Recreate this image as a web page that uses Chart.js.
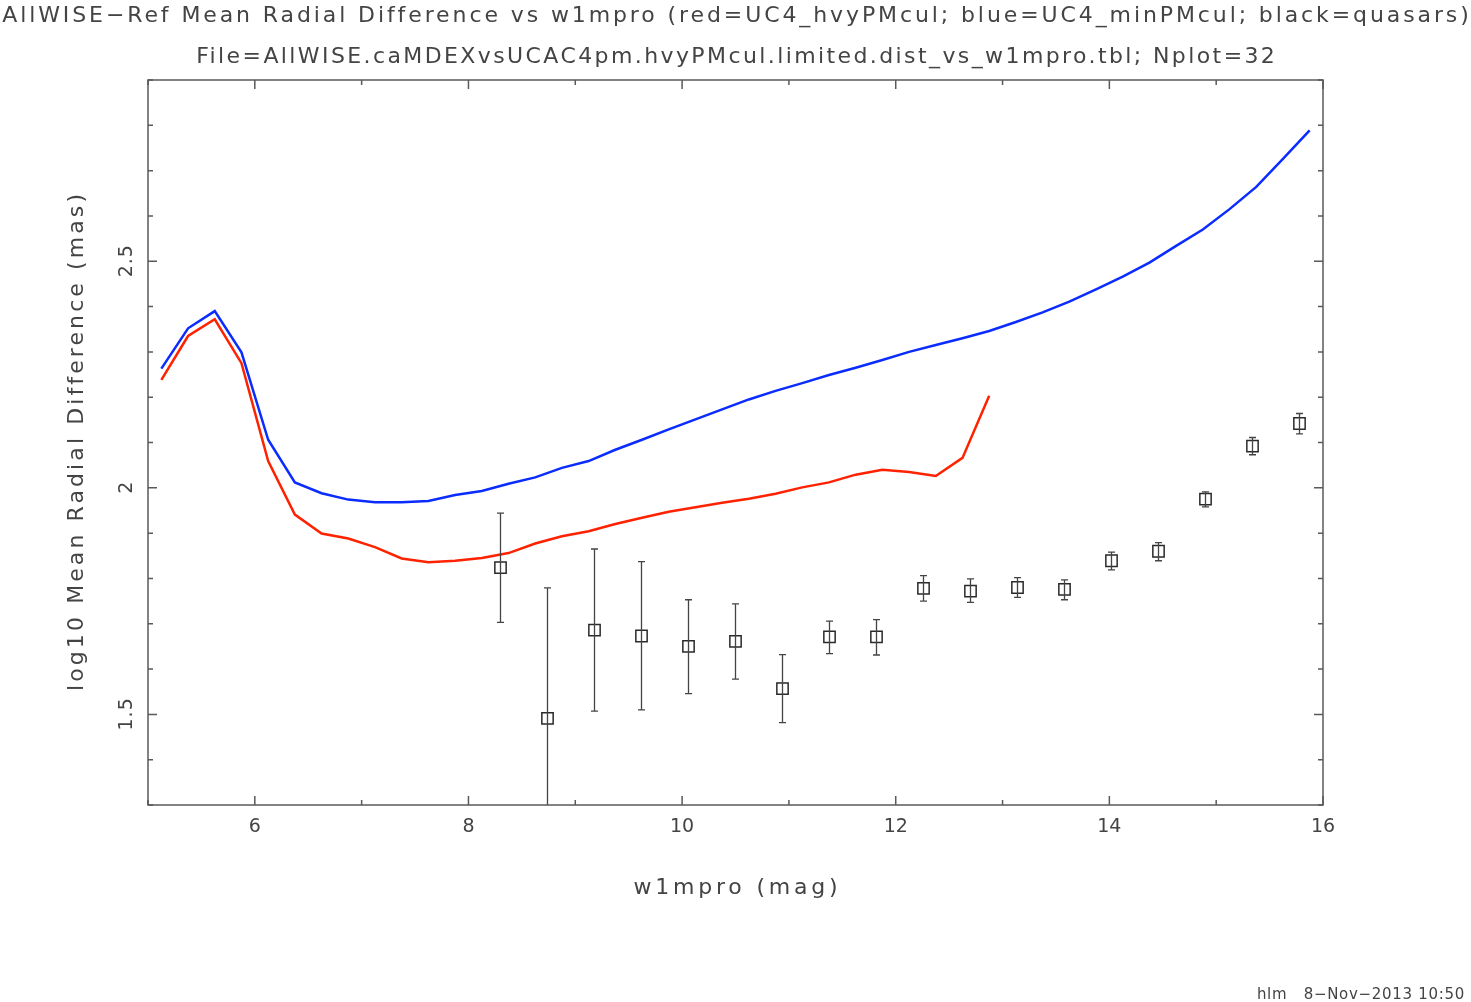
<!DOCTYPE html>
<html lang="en">
<head>
    <meta charset="UTF-8">
    <title>AllWISE-Ref Mean Radial Difference vs w1mpro</title>
    <script src="https://cdn.jsdelivr.net/npm/chart.js"></script>
    <style>
        html, body { margin: 0; padding: 0; background: #fff; }
        #wrap { width: 1471px; height: 1002px; position: relative; }
    </style>
</head>
<body>
    <div id="wrap"><canvas id="plot"></canvas></div>

    <script>
        // magnitude bins (mag) of the two reference curves
        const magBins = [5.125, 5.375, 5.625, 5.875, 6.125, 6.375, 6.625, 6.875, 7.125, 7.375, 7.625,
                         7.875, 8.125, 8.375, 8.625, 8.875, 9.125, 9.375, 9.625, 9.875, 10.125, 10.375,
                         10.625, 10.875, 11.125, 11.375, 11.625, 11.875, 12.125, 12.375, 12.625, 12.875,
                         13.125, 13.375, 13.625, 13.875, 14.125, 14.375, 14.625, 14.875, 15.125, 15.375,
                         15.625, 15.875];

        // blue = UC4_minPMcul (all 44 bins)
        const minPMcul = [2.263, 2.352, 2.390, 2.299, 2.106, 2.012, 1.988, 1.974, 1.968, 1.968, 1.971,
                          1.984, 1.993, 2.009, 2.023, 2.044, 2.059, 2.084, 2.106, 2.129, 2.151, 2.173,
                          2.195, 2.214, 2.231, 2.249, 2.265, 2.282, 2.300, 2.315, 2.330, 2.346,
                          2.366, 2.387, 2.411, 2.438, 2.466, 2.497, 2.534, 2.570, 2.615, 2.664,
                          2.726, 2.789];

        // red = UC4_hvyPMcul (first 32 bins, Nplot=32)
        const hvyPMcul = [2.238, 2.335, 2.372, 2.275, 2.059, 1.941, 1.899, 1.888, 1.869, 1.844, 1.836,
                          1.839, 1.845, 1.856, 1.877, 1.893, 1.904, 1.920, 1.934, 1.947, 1.957, 1.967,
                          1.976, 1.987, 2.001, 2.012, 2.029, 2.040, 2.035, 2.026, 2.066, 2.203];

        // black = quasars, with error bar ends
        const qsoMag  = [8.30, 8.74, 9.18, 9.62, 10.06, 10.50, 10.94, 11.38, 11.82, 12.26, 12.70,
                         13.14, 13.58, 14.02, 14.46, 14.90, 15.34, 15.78];
        const qsoMean = [1.824, 1.491, 1.686, 1.673, 1.650, 1.661, 1.557, 1.671, 1.671, 1.778, 1.772,
                         1.780, 1.776, 1.839, 1.860, 1.975, 2.092, 2.142];
        const qsoHi   = [1.944, 1.779, 1.865, 1.837, 1.753, 1.744, 1.632, 1.706, 1.709, 1.806, 1.799,
                         1.802, 1.797, 1.858, 1.879, 1.991, 2.111, 2.164];
        const qsoLo   = [1.703, 1.203, 1.507, 1.510, 1.546, 1.578, 1.482, 1.634, 1.631, 1.750, 1.747,
                         1.758, 1.753, 1.819, 1.839, 1.958, 2.073, 2.119];

        const xMajor = [6, 8, 10, 12, 14, 16];
        const xMinor = [5, 7, 9, 11, 13, 15];
        const yMajor = [1.5, 2, 2.5];
        const yMinor = [1.3, 1.4, 1.6, 1.7, 1.8, 1.9, 2.1, 2.2, 2.3, 2.4, 2.6, 2.7, 2.8, 2.9];
        const yLabels = ["1.5", "2", "2.5"];

        const titleLines = [
            "AllWISE\u2212Ref Mean Radial Difference vs w1mpro (red=UC4_hvyPMcul; blue=UC4_minPMcul; black=quasars)",
            "File=AllWISE.caMDEXvsUCAC4pm.hvyPMcul.limited.dist_vs_w1mpro.tbl; Nplot=32"
        ];
        const xTitle = "w1mpro (mag)";
        const yTitle = "log10 Mean Radial Difference (mas)";
        const footer = "hlm   8\u2212Nov\u22122013 10:50";

        const FONT = "'DejaVu Sans', sans-serif";
        const INK = "#444";

        function pts(xs, ys) {
            return ys.map((v, i) => ({ x: xs[i], y: v }));
        }

        // centred text with extra letter spacing
        function spaced(ctx, text, x, y, spacing) {
            ctx.letterSpacing = spacing + "px";
            ctx.fillText(text, x + spacing / 2, y);
            ctx.letterSpacing = "0px";
        }

        // error bars for the quasar points
        const errorBars = {
            id: "errorBars",
            afterDatasetsDraw(chart) {
                const { ctx, chartArea: a, scales: { x, y } } = chart;
                ctx.save();
                ctx.beginPath();
                ctx.rect(a.left, a.top, a.right - a.left, a.bottom - a.top);
                ctx.clip();
                ctx.strokeStyle = "#444";
                ctx.lineWidth = 1.3;
                qsoMag.forEach((m, i) => {
                    const px = x.getPixelForValue(m);
                    const top = y.getPixelForValue(qsoHi[i]);
                    const bot = y.getPixelForValue(qsoLo[i]);
                    ctx.beginPath();
                    ctx.moveTo(px, top); ctx.lineTo(px, bot);
                    ctx.moveTo(px - 3.5, top); ctx.lineTo(px + 3.5, top);
                    ctx.moveTo(px - 3.5, bot); ctx.lineTo(px + 3.5, bot);
                    ctx.stroke();
                });
                ctx.restore();
            }
        };

        // frame, inward ticks, rotated y labels and the texts
        const frame = {
            id: "frame",
            afterDraw(chart) {
                const { ctx, chartArea: a, scales: { x, y } } = chart;
                ctx.save();
                ctx.strokeStyle = "#5a5a5a";
                ctx.lineWidth = 1.5;
                ctx.strokeRect(a.left, a.top, a.right - a.left, a.bottom - a.top);

                ctx.beginPath();
                const xt = (v, len) => {
                    const px = x.getPixelForValue(v);
                    ctx.moveTo(px, a.bottom); ctx.lineTo(px, a.bottom - len);
                    ctx.moveTo(px, a.top); ctx.lineTo(px, a.top + len);
                };
                const yt = (v, len) => {
                    const py = y.getPixelForValue(v);
                    ctx.moveTo(a.left, py); ctx.lineTo(a.left + len, py);
                    ctx.moveTo(a.right, py); ctx.lineTo(a.right - len, py);
                };
                xMajor.forEach(v => xt(v, 9));
                xMinor.forEach(v => xt(v, 5));
                yMajor.forEach(v => yt(v, 9));
                yMinor.forEach(v => yt(v, 5));
                ctx.stroke();

                ctx.fillStyle = INK;
                ctx.textAlign = "center";
                ctx.textBaseline = "middle";

                // y tick labels, reading bottom to top
                ctx.font = "19px " + FONT;
                yMajor.forEach((v, i) => {
                    ctx.save();
                    ctx.translate(127, y.getPixelForValue(v));
                    ctx.rotate(-Math.PI / 2);
                    spaced(ctx, yLabels[i], 0, 0, 1);
                    ctx.restore();
                });

                // titles
                const cx = (a.left + a.right) / 2;
                ctx.font = "22px " + FONT;
                spaced(ctx, titleLines[0], cx, 16, 2.9);
                spaced(ctx, titleLines[1], cx, 57, 2.4);

                ctx.font = "22px " + FONT;
                spaced(ctx, xTitle, cx, 888, 3.8);

                ctx.save();
                ctx.translate(77, (a.top + a.bottom) / 2);
                ctx.rotate(-Math.PI / 2);
                ctx.font = "22px " + FONT;
                spaced(ctx, yTitle, 0, 0, 3.1);
                ctx.restore();

                ctx.font = "15px " + FONT;
                ctx.textAlign = "right";
                ctx.letterSpacing = "0.7px";
                ctx.fillText(footer, 1465, 995);
                ctx.restore();
            }
        };

        new Chart(document.getElementById("plot"), {
            type: "line",
            data: {
                datasets: [
                    {
                        label: "UC4_minPMcul",
                        data: pts(magBins, minPMcul),
                        borderColor: "#0a2cff",
                        borderWidth: 2.5,
                        pointRadius: 0,
                        tension: 0,
                        fill: false
                    },
                    {
                        label: "UC4_hvyPMcul",
                        data: pts(magBins, hvyPMcul),
                        borderColor: "#ff2200",
                        borderWidth: 2.5,
                        pointRadius: 0,
                        tension: 0,
                        fill: false
                    },
                    {
                        label: "quasars",
                        data: pts(qsoMag, qsoMean),
                        showLine: false,
                        pointStyle: "rect",
                        pointRadius: 8,
                        borderColor: "#2a2a2a",
                        borderWidth: 1.5,
                        backgroundColor: "rgba(0,0,0,0)"
                    }
                ]
            },
            options: {
                responsive: true,
                maintainAspectRatio: false,
                animation: false,
                layout: { padding: { top: 80, right: 148, left: 0, bottom: 0 } },
                plugins: {
                    legend: { display: false },
                    tooltip: { enabled: false }
                },
                scales: {
                    x: {
                        type: "linear",
                        min: 5,
                        max: 16,
                        afterBuildTicks: s => { s.ticks = xMajor.map(v => ({ value: v })); },
                        afterFit: s => { s.height = 197; },
                        grid: { display: false },
                        border: { display: false },
                        ticks: {
                            color: INK,
                            font: { family: FONT, size: 19 },
                            padding: 3,
                            maxRotation: 0
                        }
                    },
                    y: {
                        type: "linear",
                        min: 1.3,
                        max: 2.9,
                        afterFit: s => { s.width = 148; },
                        grid: { display: false },
                        border: { display: false },
                        ticks: { display: false }
                    }
                }
            },
            plugins: [errorBars, frame]
        });
    </script>
</body>
</html>
